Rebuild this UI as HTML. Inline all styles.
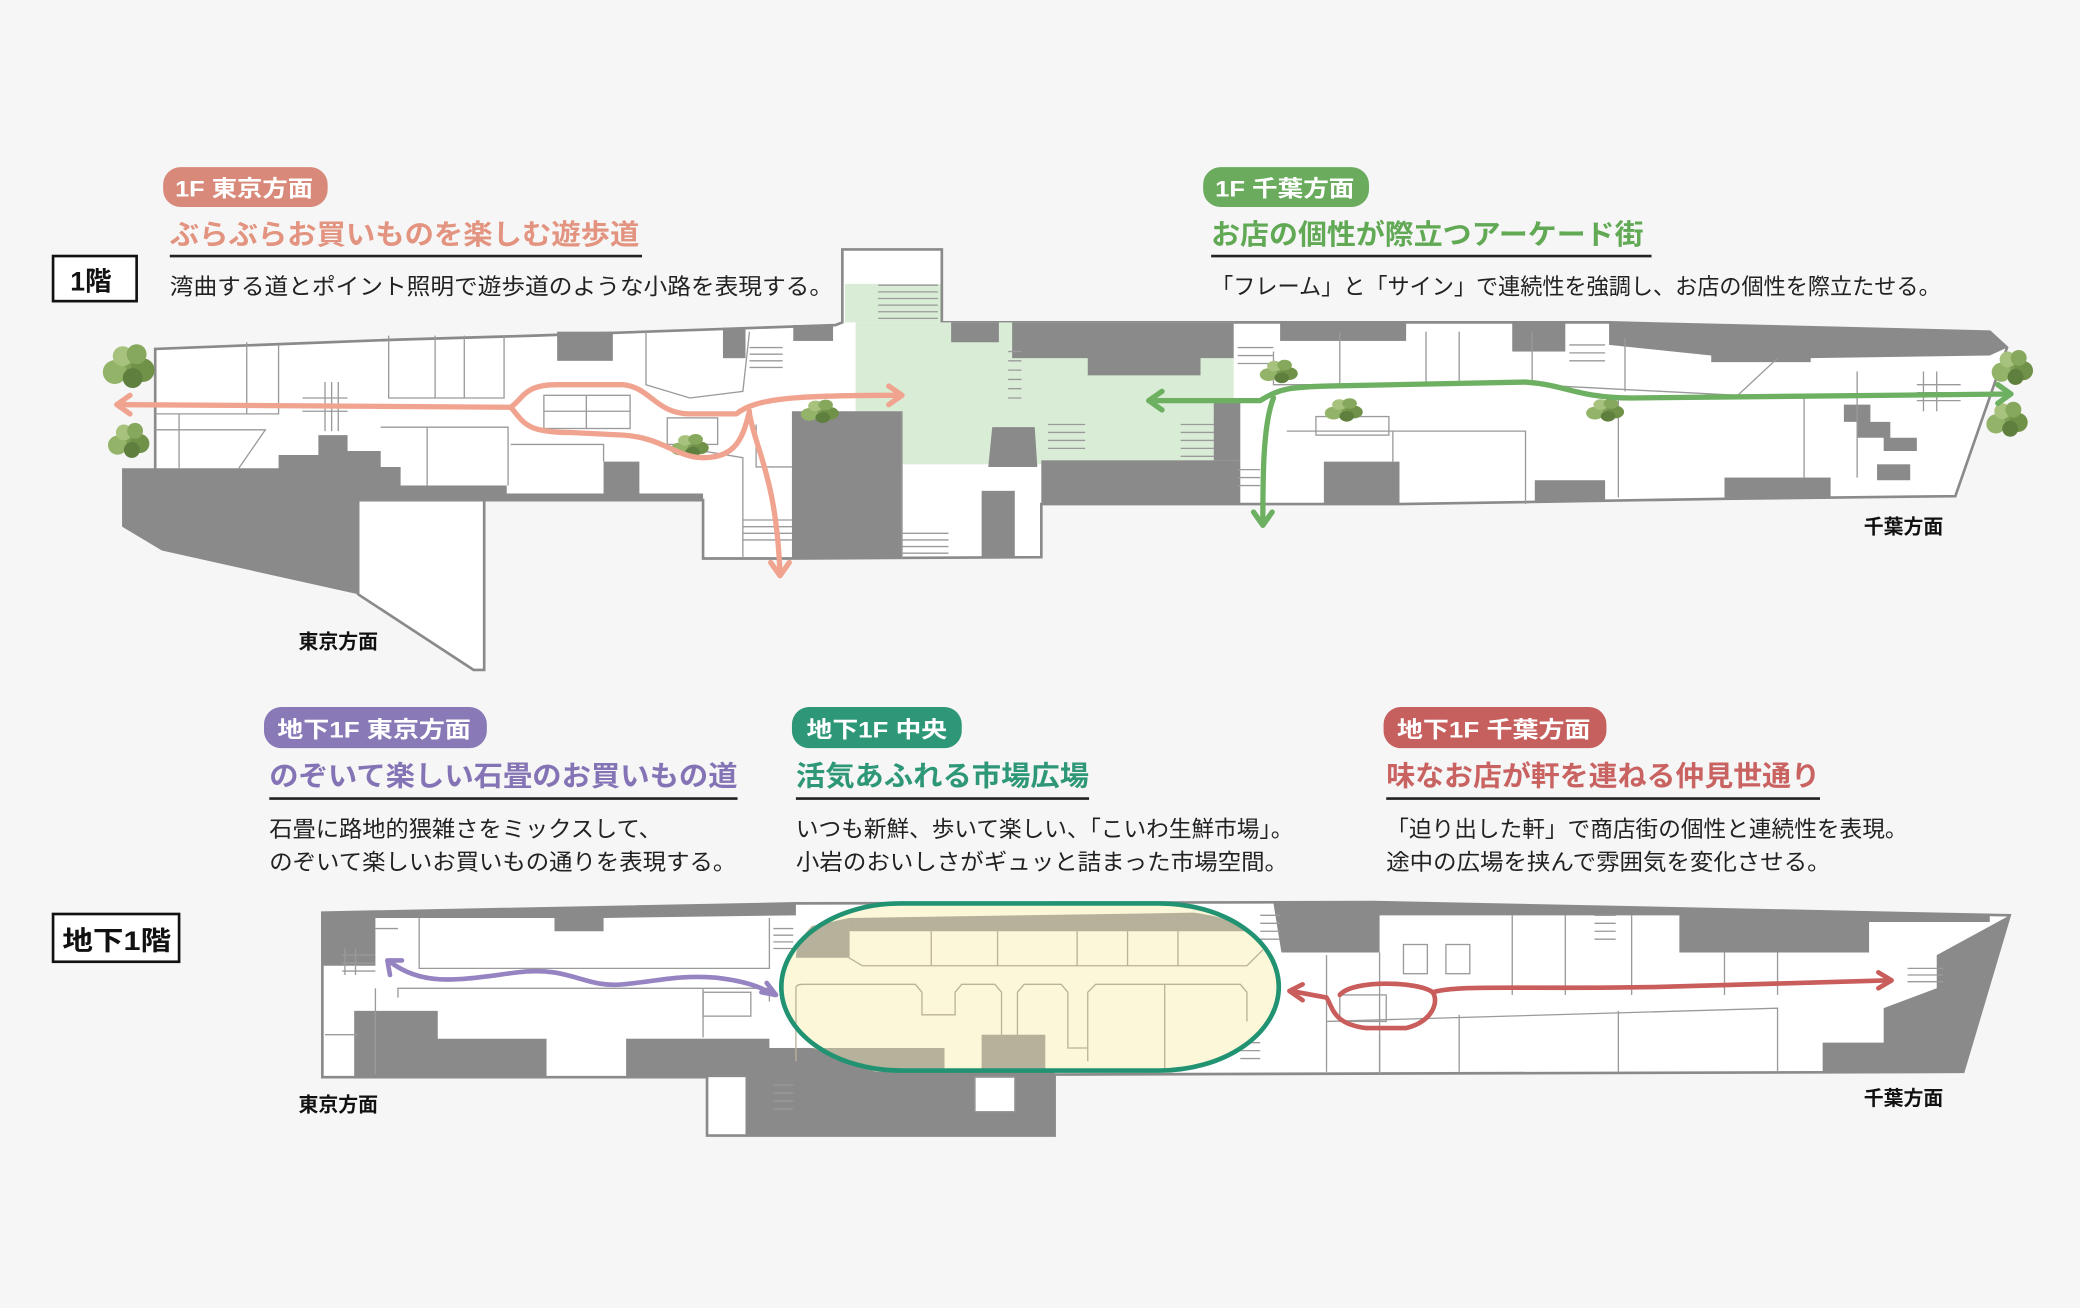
<!DOCTYPE html>
<html><head><meta charset="utf-8"><style>
html,body{margin:0;padding:0;background:#f6f6f6;}
svg{display:block;}
text{font-family:"Liberation Sans","Noto Sans CJK JP",sans-serif;}
</style></head><body>
<svg width="2080" height="1308" viewBox="0 0 1568 986" xmlns="http://www.w3.org/2000/svg">
<rect width="1568" height="986" fill="#f6f6f6"/>
<defs>
<g id="bush">
<circle cx="0" cy="0" r="7" fill="#7d9e55"/><circle cx="-7" cy="3" r="6" fill="#93b468"/><circle cx="7" cy="2" r="6" fill="#6f9248"/><circle cx="-3" cy="-5" r="5" fill="#a7c27c"/><circle cx="4" cy="-6" r="5" fill="#86a85c"/><circle cx="2" cy="6" r="5" fill="#5e7f3e"/>
</g>
</defs>

<!-- ============ 1F PLAN ============ -->
<g stroke="#8a8a8a" stroke-width="2">
<polygon fill="#fff" points="117,263 300,256 403,253 630,245 635,243 635,188 710,188 710,243 935,243 1213,243 1500,250 1513,262 1474,374 1300,376 1055,380 935,380 785,380 785,420 597,421 530,421 530,377 117,377"/>
<polygon fill="#fff" points="270,377 365,377 365,505 357,505 270,448"/>
</g>
<rect x="645" y="243" width="285" height="107" fill="#d9ecd5"/>
<rect x="637" y="214" width="72" height="29" fill="#d9ecd5"/>
<g fill="#8a8a8a">
<polygon points="92,353 210,353 210,343 240,343 240,328 262,328 262,340 287,340 287,352 302,352 302,366 382,366 382,372 455,372 455,348 482,348 482,372 530,372 530,377 270,377 270,448 122,415 92,397"/>
<rect x="420" y="250" width="42" height="22"/><rect x="545" y="247" width="17" height="23"/><rect x="598" y="245" width="30" height="12"/>
<rect x="717" y="243" width="36" height="15"/>
<polygon points="763,243 930,243 930,270 905,270 905,283 820,283 820,270 763,270"/>
<rect x="965" y="243" width="95" height="14"/><rect x="1140" y="243" width="40" height="22"/>
<polygon points="1213,243 1500,250 1513,262 1500,268 1365,270 1365,273 1290,273 1290,268 1213,260"/>
<rect x="597" y="310" width="83" height="111"/>
<rect x="785" y="347" width="150" height="33"/>
<polygon points="748,322 780,322 782,352 745,352"/>
<rect x="740" y="370" width="25" height="50"/>
<rect x="998" y="348" width="57" height="32"/><rect x="1157" y="362" width="53" height="16"/><rect x="1300" y="360" width="80" height="15"/>
<polygon points="1390,305 1410,305 1410,318 1425,318 1425,330 1445,330 1445,340 1420,340 1420,330 1400,330 1400,318 1390,318"/>
<rect x="1415" y="350" width="25" height="12"/>
<rect x="915" y="300" width="20" height="47"/>
</g>
<!-- 1F partitions -->
<g stroke="#9a9a9a" stroke-width="1" fill="none">
<polyline points="117,312 210,312 210,260"/><line x1="186" y1="258" x2="186" y2="312"/>
<polyline points="117,324 200,324 180,353"/><line x1="135" y1="312" x2="135" y2="353"/>
<polyline points="293,253 293,300 380,300 380,253"/><line x1="328" y1="253" x2="328" y2="300"/><line x1="350" y1="253" x2="350" y2="300"/>
<polyline points="287,322 383,322 383,366"/><line x1="322" y1="322" x2="322" y2="366"/>
<polyline points="385,335 455,335 455,348"/>
<polyline points="487,250 487,290 520,300 560,295 565,250"/>
<rect x="410" y="298" width="65" height="25"/><line x1="442" y1="298" x2="442" y2="323"/><line x1="410" y1="310" x2="475" y2="310"/>
<rect x="503" y="315" width="38" height="20"/>
<polyline points="570,320 570,352 597,352"/><polyline points="530,340 560,345 560,421"/>
<line x1="680" y1="310" x2="680" y2="421"/>
<polyline points="960,265 960,290 1075,290 1075,250"/><line x1="1010" y1="250" x2="1010" y2="290"/><line x1="1100" y1="250" x2="1100" y2="290"/>
<polyline points="1155,250 1155,290 1310,298 1340,270"/><line x1="1225" y1="255" x2="1225" y2="295"/>
<polyline points="970,325 1150,325 1150,380"/><line x1="1050" y1="325" x2="1050" y2="348"/>
<polyline points="1220,300 1360,300 1360,360"/><line x1="1220" y1="300" x2="1220" y2="375"/>
<rect x="992" y="314" width="55" height="14"/>
<line x1="1400" y1="280" x2="1400" y2="360"/>
</g>
<!-- stairs -->
<g stroke="#9a9a9a" stroke-width="1">
<path d="M662,215 H707 M662,220 H707 M662,225 H707 M662,230 H707 M662,235 H707 M662,240 H707"/>
<path d="M228,300 H262 M228,305 H262 M228,310 H262 M245,288 V325 M250,288 V325 M255,288 V325"/>
<path d="M565,262 H590 M565,267 H590 M565,272 H590 M565,277 H590"/>
<path d="M560,392 H597 M560,397 H597 M560,402 H597 M560,407 H597"/>
<path d="M680,402 H715 M680,407 H715 M680,412 H715 M680,417 H715"/>
<path d="M760,265 H770 M760,272 H770 M760,279 H770 M760,286 H770 M760,293 H770 M760,300 H770"/>
<path d="M790,320 H818 M790,326 H818 M790,332 H818 M790,338 H818"/>
<path d="M890,320 H915 M890,326 H915 M890,332 H915 M890,338 H915 M890,344 H915"/>
<path d="M933,262 H960 M933,268 H960 M933,274 H960 M933,354 H950 M933,360 H950 M933,366 H950"/>
<path d="M1183,260 H1210 M1183,266 H1210 M1183,272 H1210"/>
<path d="M1445,290 H1478 M1445,296 H1478 M1445,302 H1478 M1450,280 V310 M1460,280 V310"/>
</g>
<!-- bushes 1F -->
<use href="#bush" transform="translate(97,276) scale(1.5)"/>
<use href="#bush" transform="translate(97,332) scale(1.2)"/>
<use href="#bush" transform="translate(618,310) scale(1.1,0.8)"/>
<use href="#bush" transform="translate(520,336) scale(1.1,0.8)"/>
<use href="#bush" transform="translate(964,280) scale(1.1,0.8)"/>
<use href="#bush" transform="translate(1013,309) scale(1.1,0.8)"/>
<use href="#bush" transform="translate(1210,309) scale(1.1,0.8)"/>
<use href="#bush" transform="translate(1517,277) scale(1.2)"/>
<use href="#bush" transform="translate(1513,316) scale(1.2)"/>

<!-- 1F arrows -->
<g fill="none" stroke="#f0a38f" stroke-width="4" stroke-linecap="round" stroke-linejoin="round">
<path d="M90,305 L385,307"/>
<path d="M385,307 C395,300 395,290 420,290 L470,290 C490,292 495,312 520,312 L555,312 C570,300 600,298 678,298"/>
<path d="M385,307 C395,318 395,326 430,326 L470,328 C500,330 510,345 530,345 C555,345 560,330 565,310"/>
<path d="M565,312 C570,340 585,360 588,432"/>
<path d="M98,298 L88,305 L98,312"/><path d="M670,291 L680,298 L670,305"/><path d="M581,424 L588,434 L595,424"/>
</g>
<g fill="none" stroke="#6db062" stroke-width="4" stroke-linecap="round" stroke-linejoin="round">
<path d="M866,302 L950,302 C965,292 975,292 1000,291 L1150,288 C1180,290 1190,300 1230,300 L1515,297"/>
<path d="M960,300 C952,320 952,360 952,394"/>
<path d="M876,295 L866,302 L876,309"/><path d="M1506,290 L1516,297 L1506,304"/><path d="M945,386 L952,396 L959,386"/>
</g>

<!-- ============ B1 PLAN ============ -->
<polygon fill="#fff" stroke="#8a8a8a" stroke-width="2" points="243,688 600,681 1035,680 1515,690 1480,808 795,810 795,856 533,856 533,812 243,812"/>
<g fill="#8a8a8a">
<rect x="243" y="688" width="40" height="40"/>
<polygon points="243,688 600,681 600,690 455,692 455,702 418,702 418,692 243,692"/>
<polygon points="267,762 330,762 330,783 412,783 412,812 267,812"/>
<rect x="472" y="783" width="108" height="29"/>
<rect x="562" y="790" width="233" height="66"/>
<polygon points="960,681 1035,680 1500,690 1500,695 1409,695 1409,718 1266,718 1266,690 1040,690 1040,718 966,718"/>
<polygon points="1460,720 1515,690 1480,808 1374,808 1374,786 1420,786 1420,760 1460,745"/>
</g>
<rect x="735" y="812" width="30" height="26" fill="#fff" stroke="#999" stroke-width="1"/>
<g stroke="#9a9a9a" stroke-width="1" fill="none">
<polyline points="316,692 316,730 580,730 580,692"/>
<polyline points="300,752 300,745 580,745 580,755"/>
<line x1="283" y1="700" x2="300" y2="700"/>
<polyline points="283,745 283,810"/><polyline points="245,780 270,780"/>
<polyline points="530,745 530,782"/><rect x="530" y="748" width="36" height="18"/>
<polyline points="1040,718 1040,810"/><line x1="1000" y1="720" x2="1000" y2="808"/>
<rect x="1058" y="712" width="18" height="22"/><rect x="1090" y="712" width="18" height="22"/>
<line x1="1140" y1="690" x2="1140" y2="750"/><line x1="1180" y1="690" x2="1180" y2="750"/><line x1="1230" y1="690" x2="1230" y2="750"/>
<line x1="1300" y1="718" x2="1300" y2="750"/><line x1="1340" y1="718" x2="1340" y2="750"/>
<polyline points="1000,770 1340,760 1340,808"/><line x1="1100" y1="765" x2="1100" y2="808"/><line x1="1220" y1="762" x2="1220" y2="808"/>
<line x1="1040" y1="780" x2="1040" y2="808"/>
<rect x="1010" y="750" width="35" height="20"/>
</g>
<g stroke="#9a9a9a" stroke-width="1">
<path d="M258,720 H283 M258,726 H283 M258,732 H283 M260,715 V735 M268,715 V735"/>
<path d="M583,700 H598 M583,705 H598 M583,710 H598 M583,715 H598"/>
<path d="M583,818 H598 M583,824 H598 M583,830 H598 M583,836 H598"/>
<path d="M950,690 H965 M950,696 H965 M950,702 H965 M950,708 H965"/>
<path d="M935,780 H950 M935,786 H950 M935,792 H950 M935,798 H950"/>
<path d="M1202,690 H1218 M1202,696 H1218 M1202,702 H1218 M1202,708 H1218"/>
<path d="M1438,730 H1465 M1438,735 H1465 M1438,740 H1465"/>
</g>
<!-- market -->
<rect x="588" y="680" width="377" height="128" rx="90" ry="64" fill="#fcf7d8"/>
<g fill="#b6b19a">
<path d="M600,722 L640,722 L640,692 L612,698 Q600,710 600,722Z"/>
<path d="M612,790 L712,790 L712,808 L660,808Z"/>
<rect x="740" y="780" width="48" height="28"/>
<path d="M640,692 L900,688 Q930,692 940,702 L640,702Z"/>
</g>
<g stroke="#b9b39a" stroke-width="1" fill="none">
<polyline points="640,702 640,722 650,728 940,728 952,716"/>
<line x1="702" y1="702" x2="702" y2="728"/><line x1="752" y1="702" x2="752" y2="728"/><line x1="812" y1="702" x2="812" y2="728"/><line x1="850" y1="702" x2="850" y2="728"/><line x1="888" y1="702" x2="888" y2="728"/>
<path d="M600,800 L600,745 Q600,742 605,742 L690,742 L695,748 L695,765 L720,765 L720,748 L725,742 L750,742 L755,748 L755,800"/>
<path d="M767,800 L767,748 L772,742 L800,742 L805,748 L805,790 L820,790"/>
<path d="M820,800 L820,748 L826,742 L935,742 L940,748 L940,770"/>
<line x1="878" y1="742" x2="878" y2="808"/>
</g>
<rect x="589" y="681" width="375" height="126" rx="90" ry="63" fill="none" stroke="#219373" stroke-width="3.5"/>

<!-- B1 arrows -->
<g fill="none" stroke="#9583c2" stroke-width="3.5" stroke-linecap="round" stroke-linejoin="round">
<path d="M294,725 C320,745 350,738 390,733 C430,728 440,745 470,742 C500,739 510,735 540,737 C565,740 575,745 584,750"/>
<path d="M294,735 L292,724 L303,724"/><path d="M574,748 L585,750 L578,741"/>
</g>
<g fill="none" stroke="#c95d5c" stroke-width="3.5" stroke-linecap="round" stroke-linejoin="round">
<path d="M973,747 L1000,752 C1005,760 1005,772 1030,775 L1060,775 C1080,770 1085,755 1080,748 C1070,740 1020,738 1010,750 M1080,748 C1100,742 1150,746 1250,744 L1425,739"/>
<path d="M982,742 L972,747 L982,754"/><path d="M1416,733 L1426,739 L1416,745"/>
</g>

<!-- ============ LABELS ============ -->
<g font-weight="bold">
<rect x="123" y="126" width="124" height="30" rx="13" fill="#d8897a"/>
<text x="132" y="148" font-size="17" fill="#fff" textLength="104" lengthAdjust="spacingAndGlyphs">1F 東京方面</text>
<text x="128" y="184" font-size="21" fill="#e39480" textLength="354" lengthAdjust="spacingAndGlyphs">ぶらぶらお買いものを楽しむ遊歩道</text>

<rect x="907" y="126" width="125" height="30" rx="13" fill="#6aab5e"/>
<text x="916" y="148" font-size="17" fill="#fff" textLength="105" lengthAdjust="spacingAndGlyphs">1F 千葉方面</text>
<text x="913" y="184" font-size="21" fill="#62a956" textLength="326" lengthAdjust="spacingAndGlyphs">お店の個性が際立つアーケード街</text>

<rect x="199" y="533" width="168" height="31" rx="13" fill="#8979b7"/>
<text x="209" y="556" font-size="17" fill="#fff" textLength="146" lengthAdjust="spacingAndGlyphs">地下1F 東京方面</text>
<text x="203" y="592" font-size="21" fill="#8574b5" textLength="353" lengthAdjust="spacingAndGlyphs">のぞいて楽しい石畳のお買いもの道</text>

<rect x="597" y="533" width="128" height="31" rx="13" fill="#2e9777"/>
<text x="608" y="556" font-size="17" fill="#fff" textLength="106" lengthAdjust="spacingAndGlyphs">地下1F 中央</text>
<text x="600" y="592" font-size="21" fill="#2e9777" textLength="221" lengthAdjust="spacingAndGlyphs">活気あふれる市場広場</text>

<rect x="1043" y="533" width="168" height="31" rx="13" fill="#c5605e"/>
<text x="1053" y="556" font-size="17" fill="#fff" textLength="146" lengthAdjust="spacingAndGlyphs">地下1F 千葉方面</text>
<text x="1045" y="592" font-size="21" fill="#c96362" textLength="327" lengthAdjust="spacingAndGlyphs">味なお店が軒を連ねる仲見世通り</text>

<rect x="40" y="193" width="63" height="34" fill="#fff" stroke="#111" stroke-width="2"/>
<text x="53" y="219" font-size="20" fill="#111">1階</text>
<rect x="40" y="689" width="95" height="36" fill="#fff" stroke="#111" stroke-width="2"/>
<text x="47" y="716" font-size="20" fill="#111" textLength="82" lengthAdjust="spacingAndGlyphs">地下1階</text>

<text x="225" y="489" font-size="15" fill="#111">東京方面</text>
<text x="225" y="838" font-size="15" fill="#111">東京方面</text>
<text x="1405" y="402" font-size="15" fill="#111">千葉方面</text>
<text x="1405" y="833" font-size="15" fill="#111">千葉方面</text>
</g>
<g stroke="#222" stroke-width="2">
<line x1="128" y1="193" x2="484" y2="193"/><line x1="913" y1="193" x2="1245" y2="193"/>
<line x1="203" y1="602" x2="556" y2="602"/><line x1="600" y1="602" x2="821" y2="602"/><line x1="1045" y1="602" x2="1372" y2="602"/>
</g>
<g font-size="17" fill="#222">
<text x="128" y="222" textLength="500" lengthAdjust="spacingAndGlyphs">湾曲する道とポイント照明で遊歩道のような小路を表現する。</text>
<text x="913" y="222" textLength="550" lengthAdjust="spacingAndGlyphs">「フレーム」と「サイン」で連続性を強調し、お店の個性を際立たせる。</text>
<text x="203" y="631" textLength="296" lengthAdjust="spacingAndGlyphs">石畳に路地的猥雑さをミックスして、</text>
<text x="203" y="656" textLength="352" lengthAdjust="spacingAndGlyphs">のぞいて楽しいお買いもの通りを表現する。</text>
<text x="600" y="631" textLength="375" lengthAdjust="spacingAndGlyphs">いつも新鮮、歩いて楽しい、「こいわ生鮮市場」。</text>
<text x="600" y="656" textLength="371" lengthAdjust="spacingAndGlyphs">小岩のおいしさがギュッと詰まった市場空間。</text>
<text x="1045" y="631" textLength="393" lengthAdjust="spacingAndGlyphs">「迫り出した軒」で商店街の個性と連続性を表現。</text>
<text x="1045" y="656" textLength="335" lengthAdjust="spacingAndGlyphs">途中の広場を挟んで雰囲気を変化させる。</text>
</g>
</svg>
</body></html>
